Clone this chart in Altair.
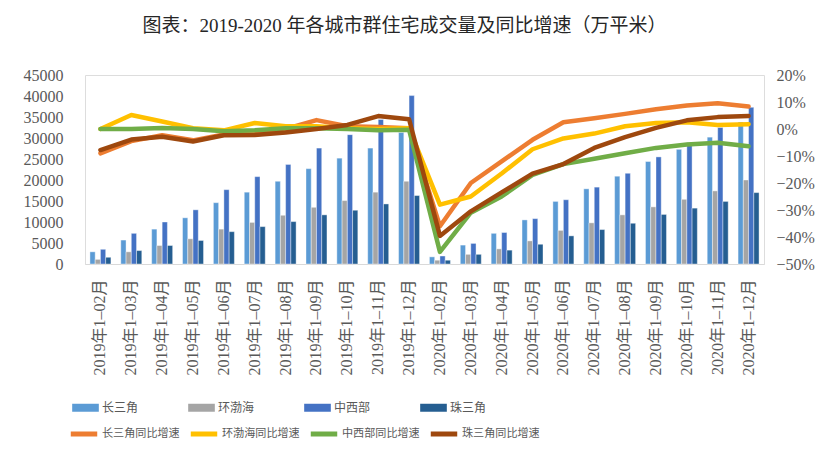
import altair as alt
import pandas as pd

months = [
    "2019年1–02月", "2019年1–03月", "2019年1–04月", "2019年1–05月", "2019年1–06月",
    "2019年1–07月", "2019年1–08月", "2019年1–09月", "2019年1–10月", "2019年1–11月",
    "2019年1–12月",
    "2020年1–02月", "2020年1–03月", "2020年1–04月", "2020年1–05月", "2020年1–06月",
    "2020年1–07月", "2020年1–08月", "2020年1–09月", "2020年1–10月", "2020年1–11月",
    "2020年1–12月",
]
cities = ["长三角", "环渤海", "中西部", "珠三角"]
yoy_names = ["长三角同比增速", "环渤海同比增速", "中西部同比增速", "珠三角同比增速"]

# 住宅成交量（万平米）
vol_csj = [2900, 5700, 8300, 11000, 14600, 17100, 19700, 22700, 25200, 27600, 31300,
           1700, 4500, 7300, 10500, 14900, 17900, 20900, 24400, 27300, 30200, 33800]
vol_hbh = [1100, 2900, 4400, 6000, 8300, 9900, 11600, 13500, 15100, 17100, 19700,
           900, 2300, 3600, 5500, 8000, 9800, 11700, 13600, 15400, 17400, 20000]
vol_zxb = [3500, 7300, 10000, 12900, 17700, 20800, 23700, 27600, 30800, 34400, 40100,
           1900, 4900, 7500, 10800, 15300, 18300, 21600, 25500, 28900, 32500, 37300]
vol_zsj = [1600, 3200, 4400, 5600, 7700, 8900, 10100, 11700, 12800, 14300, 16300,
           900, 2300, 3300, 4700, 6700, 8200, 9700, 11800, 13300, 14900, 17000]

# 同比增速（%）
yoy_csj = [-9.0, -4.5, -2.3, -4.2, -2.0, -1.0, 0.0, 3.3, 1.0, 0.7, 0.3,
           -36.0, -20.0, -12.0, -4.0, 2.5, 4.0, 5.6, 7.3, 8.7, 9.5, 8.3]
yoy_hbh = [0.0, 5.2, 2.8, 0.3, -0.5, 2.2, 1.0, 1.0, 0.3, 0.0, 0.3,
           -28.0, -25.0, -16.5, -7.5, -3.5, -1.7, 1.0, 2.2, 2.5, 1.5, 1.8]
yoy_zxb = [0.0, 0.0, 0.4, 0.0, -0.8, -0.5, 0.3, 0.3, 0.0, -0.5, -0.3,
           -45.5, -31.0, -25.0, -17.0, -13.0, -11.0, -9.0, -7.0, -5.7, -5.1, -6.4]
yoy_zsj = [-7.8, -3.9, -2.9, -4.6, -2.3, -2.2, -1.3, 0.0, 1.5, 4.8, 3.6,
           -39.6, -30.5, -23.5, -16.5, -13.0, -7.0, -3.0, 0.4, 3.2, 4.4, 4.8]

bar_colors = ["#5B9BD5", "#A5A5A5", "#4472C4", "#255E91"]
line_colors = ["#ED7D31", "#FFC000", "#70AD47", "#9E480E"]

vols = [vol_csj, vol_hbh, vol_zxb, vol_zsj]
yoys = [yoy_csj, yoy_hbh, yoy_zxb, yoy_zsj]

bar_rows = []
for c, vals in zip(cities, vols):
    for m, v in zip(months, vals):
        bar_rows.append({"month": m, "city": c, "value": v})
bar_df = pd.DataFrame(bar_rows)

line_rows = []
for i, (n, vals) in enumerate(zip(yoy_names, yoys)):
    for m, v in zip(months, vals):
        line_rows.append({"month": m, "series": n, "yoy": v, "k": i})
line_df = pd.DataFrame(line_rows)

SERIF = "Liberation Serif, Noto Sans CJK SC"
CJK = "Noto Sans CJK SC"
GRAY = "#595959"

x_enc = alt.X(
    "month:N", sort=months, title=None,
    scale=alt.Scale(paddingInner=0.32, paddingOuter=0.16),
    axis=alt.Axis(labelAngle=-90, labelFont=SERIF, labelFontSize=16, labelColor=GRAY,
                  labelPadding=15, ticks=False, domainColor="#D9D9D9", domainWidth=1,
                  grid=False, labelLimit=200),
)

bars = alt.Chart(bar_df).mark_bar(stroke="white", strokeWidth=0.4).encode(
    x=x_enc,
    xOffset=alt.XOffset("city:N", sort=cities, scale=alt.Scale(paddingInner=0.0)),
    y=alt.Y("value:Q", title=None,
            scale=alt.Scale(domain=[0, 45000], nice=False, zero=True),
            axis=alt.Axis(orient="left", values=list(range(0, 45001, 5000)), format="d",
                          labelFont=SERIF, labelFontSize=16, labelColor=GRAY,
                          labelPadding=22, ticks=False, domain=False, grid=False)),
    color=alt.Color("city:N", scale=alt.Scale(domain=cities, range=bar_colors),
                    legend=alt.Legend(orient="none", legendX=-13, legendY=319,
                                      direction="horizontal", columns=4, title=None,
                                      symbolType="M-1,-0.3H1V0.3H-1Z", symbolSize=710,
                                      symbolStrokeWidth=0, labelFont=CJK, labelFontSize=12,
                                      labelColor=GRAY, labelOffset=3, columnPadding=49,
                                      gridAlign="all", padding=0)),
)

lines = alt.Chart(line_df).mark_line(strokeWidth=4.5, strokeCap="round", strokeJoin="round").encode(
    x=x_enc,
    y=alt.Y("yoy:Q", title=None,
            scale=alt.Scale(domain=[-50, 20], nice=False, zero=False),
            axis=alt.Axis(orient="right", values=list(range(-50, 21, 10)),
                          labelExpr="(datum.value < 0 ? '−' : '') + abs(datum.value) + '%'",
                          labelFont=SERIF, labelFontSize=16, labelColor=GRAY,
                          labelPadding=12, ticks=False, domain=False, grid=False)),
    color=alt.Color("series:N", sort=yoy_names,
                    scale=alt.Scale(domain=yoy_names, range=line_colors),
                    legend=alt.Legend(orient="none", legendX=-17, legendY=343,
                                      direction="horizontal", columns=4, title=None,
                                      symbolType="stroke", symbolSize=700,
                                      symbolStrokeWidth=5, labelFont=CJK, labelFontSize=11.1,
                                      labelColor=GRAY, labelOffset=2, columnPadding=0,
                                      gridAlign="all", padding=0)),
    order=alt.Order("k:Q"),
)

chart = alt.layer(bars, lines).resolve_scale(
    y="independent", color="independent"
).properties(
    width=679, height=189,
    padding={"left": 77, "top": 67, "right": 59, "bottom": 191},
    autosize=alt.AutoSizeParams(type="none"),
    title=alt.Title("图表：2019-2020 年各城市群住宅成交量及同比增速（万平米）",
                    font=SERIF, fontSize=19, fontWeight="normal", color="#262626",
                    anchor="middle", offset=31, dx=-20),
).configure_view(strokeWidth=0).configure(background="white")

chart.save("out.html", embed_options={"renderer": "svg", "actions": False})
